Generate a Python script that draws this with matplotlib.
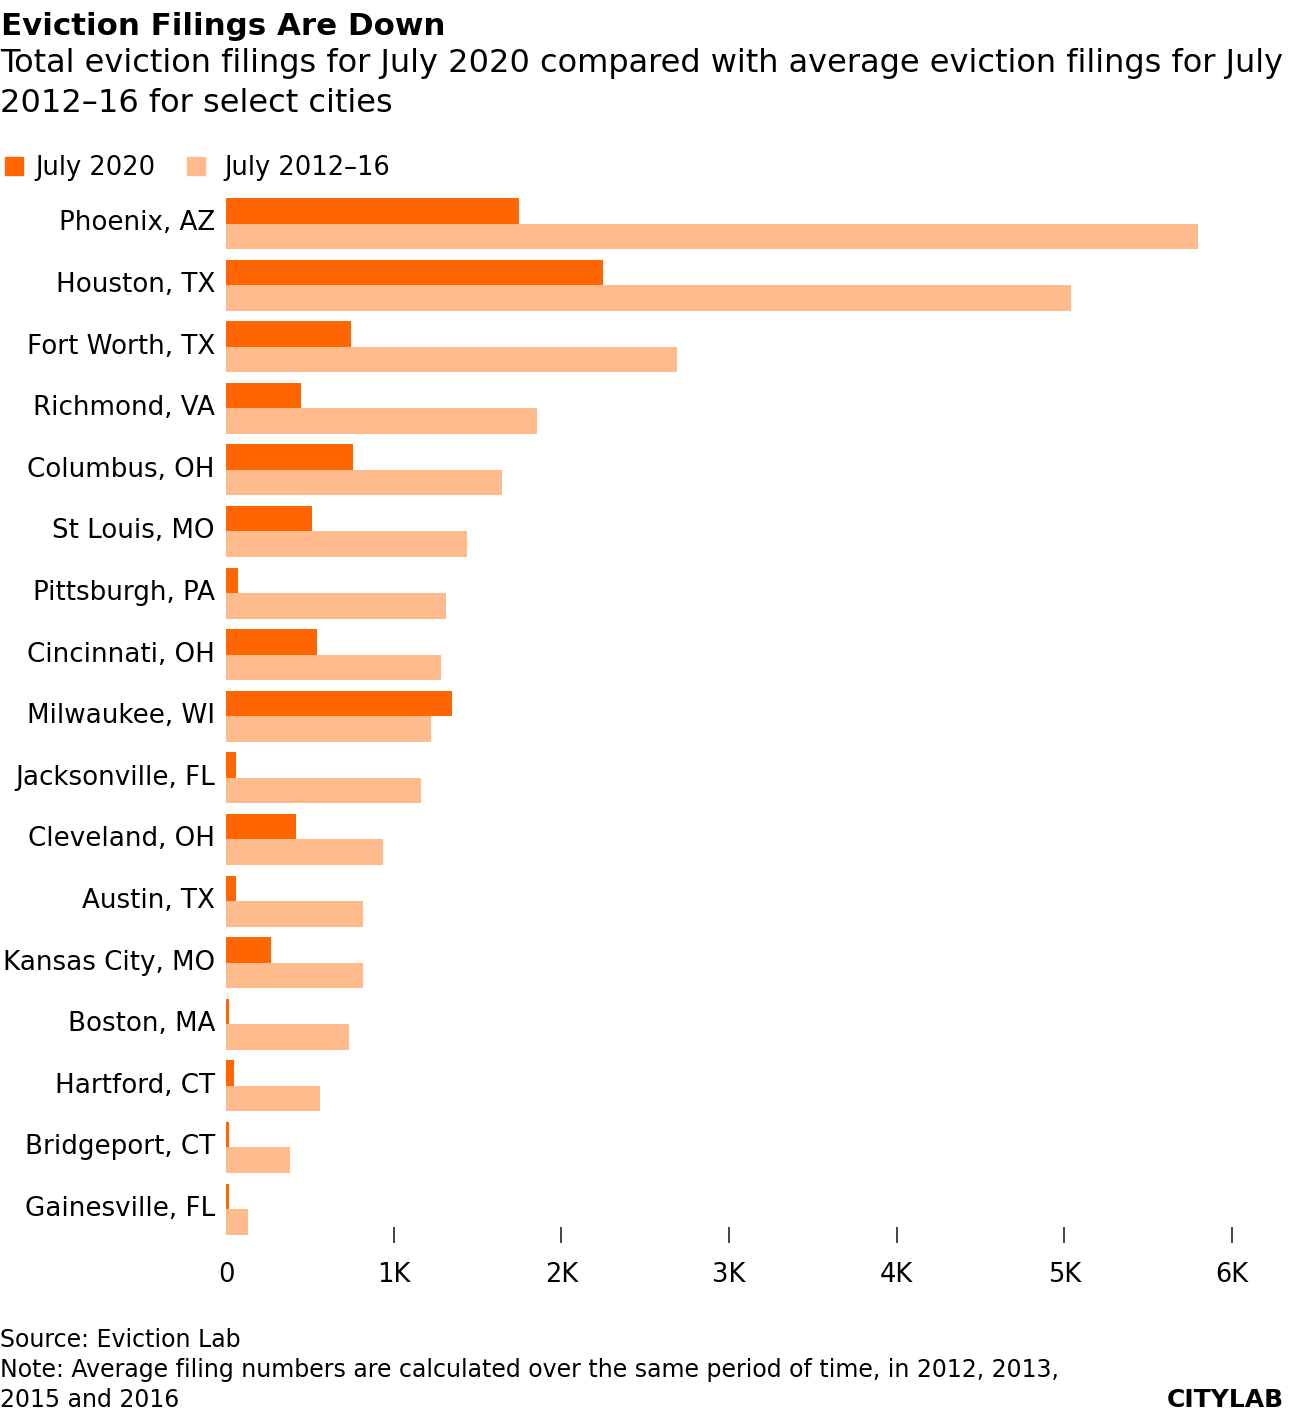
import matplotlib
matplotlib.use("Agg")
import matplotlib.pyplot as plt
import numpy as np

plt.rcParams['font.family'] = ['DejaVu Sans']

cities = ['Phoenix, AZ', 'Houston, TX', 'Fort Worth, TX', 'Richmond, VA', 'Columbus, OH',
          'St Louis, MO', 'Pittsburgh, PA', 'Cincinnati, OH', 'Milwaukee, WI',
          'Jacksonville, FL', 'Cleveland, OH', 'Austin, TX', 'Kansas City, MO',
          'Boston, MA', 'Hartford, CT', 'Bridgeport, CT', 'Gainesville, FL']
july_2020 = [1750, 2250, 745, 450, 757, 510, 70, 545, 1345, 58, 415, 58, 270, 20, 45, 20, 20]
july_2012_16 = [5800, 5040, 2690, 1855, 1645, 1440, 1310, 1285, 1225, 1165, 935, 820, 820,
                735, 560, 380, 130]
xticks = [0, 1000, 2000, 3000, 4000, 5000, 6000]
xticklabels = ['0', '1K', '2K', '3K', '4K', '5K', '6K']

DARK = '#ff6600'
LIGHT = '#ffbb8c'

W, H = 1296, 1414
fig = plt.figure(figsize=(W / 100, H / 100), dpi=100)

def fy(y):
    return 1 - y / H

ax = fig.add_axes([226 / W, fy(1243), 1006 / W, (1243 - 190) / H])

y = np.arange(len(cities))
h = 0.414
ax.barh(y - h / 2, july_2020, height=h, color=DARK, linewidth=0)
ax.barh(y + h / 2, july_2012_16, height=h, color=LIGHT, linewidth=0)

ax.set_xlim(0, 6000)
ax.set_ylim(16.552, -0.544)
ax.set_yticks(y - 0.05)
ax.set_yticklabels(cities, fontsize=18.8)
ax.tick_params(axis='y', length=0, pad=8)
ax.set_xticks(xticks)
ax.set_xticklabels(xticklabels, fontsize=18.5)
ax.tick_params(axis='x', direction='in', length=11.5, width=1.4, color='#444444', pad=14)
ax.xaxis.get_major_ticks()[0].tick1line.set_visible(False)
for s in ax.spines.values():
    s.set_visible(False)

# header
fig.text(1 / W, fy(35), 'Eviction Filings Are Down', fontsize=22.2, fontweight='bold', va='baseline')
fig.text(0, fy(72), 'Total eviction filings for July 2020 compared with average eviction filings for July',
         fontsize=23, va='baseline')
fig.text(0, fy(112), '2012–16 for select cities', fontsize=23, va='baseline')

# legend
fig.patches.append(plt.Rectangle((5 / W, fy(175)), 18 / W, 18 / H, color=DARK, transform=fig.transFigure))
fig.text(35 / W, fy(175), 'July 2020', fontsize=18.5, va='baseline')
fig.patches.append(plt.Rectangle((187 / W, fy(175)), 18 / W, 18 / H, color=LIGHT, transform=fig.transFigure))
fig.text(224 / W, fy(175), 'July 2012–16', fontsize=18.5, va='baseline')

# footer
fig.text(0, fy(1347), 'Source: Eviction Lab', fontsize=17, va='baseline')
fig.text(0, fy(1377), 'Note: Average filing numbers are calculated over the same period of time, in 2012, 2013,',
         fontsize=17, va='baseline')
fig.text(0, fy(1407), '2015 and 2016', fontsize=17, va='baseline')
fig.text(1284 / W, fy(1407), 'CITYLAB', fontsize=18, fontweight='heavy', ha='right', va='baseline')

fig.savefig('out.png', dpi=100)
